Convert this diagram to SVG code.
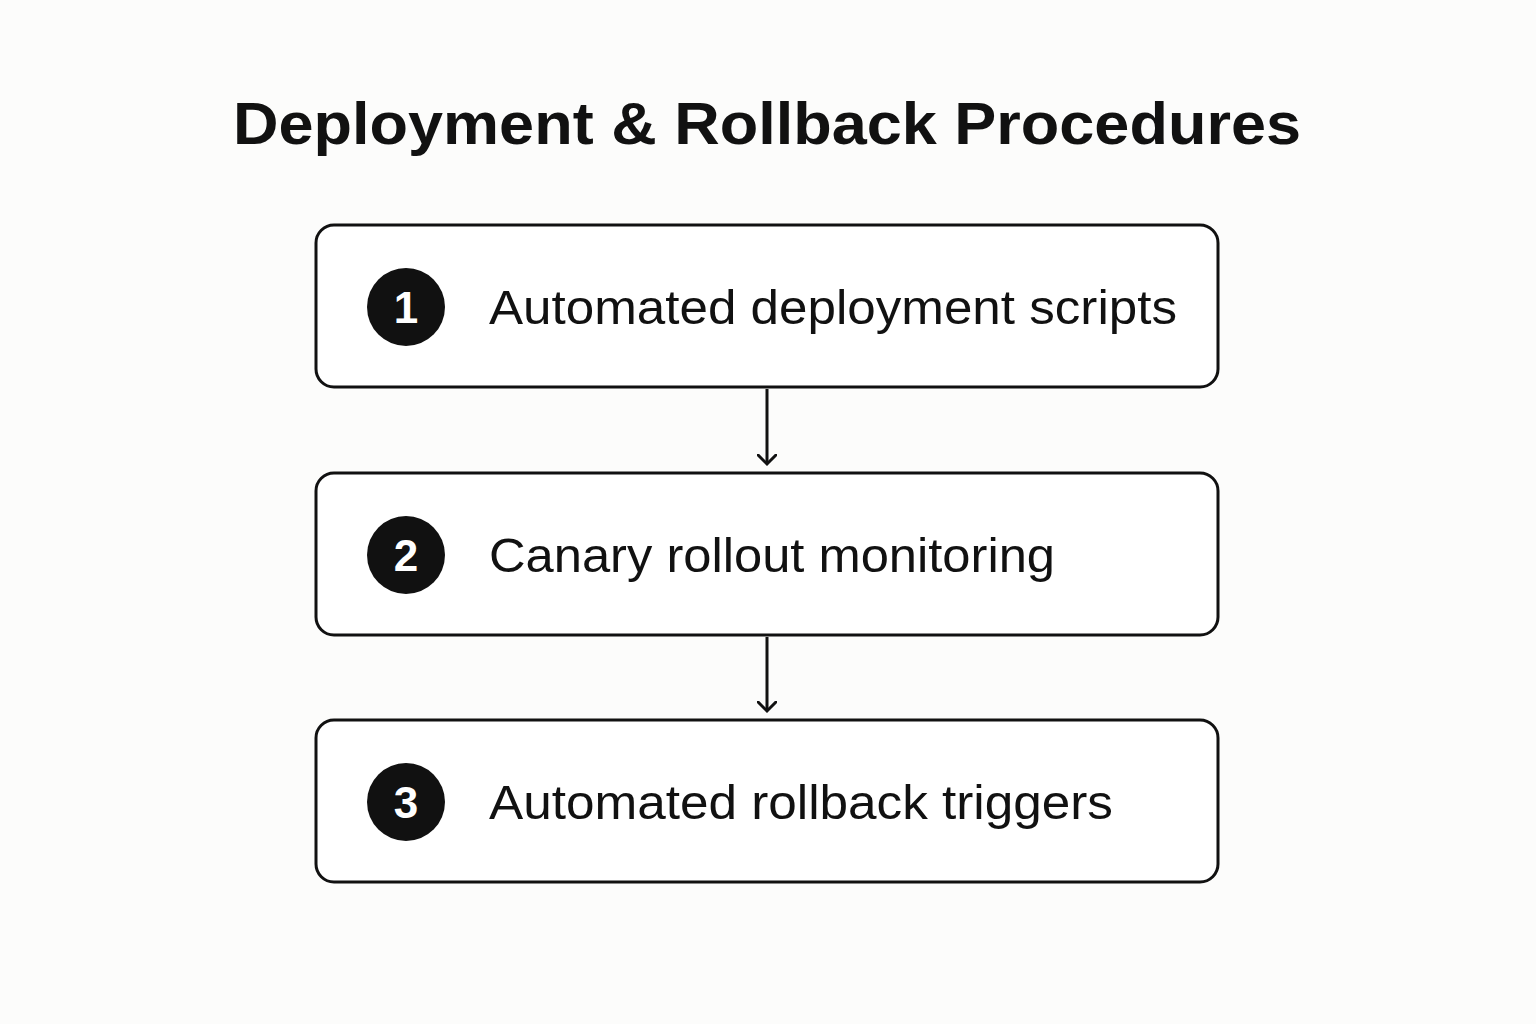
<svg xmlns="http://www.w3.org/2000/svg" width="1536" height="1024" viewBox="0 0 1536 1024">
<style>
.box{fill:#fff;stroke:#111;stroke-width:3}
.num{fill:#111}
.nt{fill:#fff;font-family:"Liberation Sans",Arial,sans-serif;font-size:44px;font-weight:bold;text-anchor:middle}
.lbl{fill:#111;font-family:"Liberation Sans",Arial,sans-serif;font-size:48px}
.con{stroke:#111;stroke-width:3;fill:none}
</style>
<defs><marker id="ah" markerWidth="20" markerHeight="20" refX="10" refY="10" orient="auto" markerUnits="userSpaceOnUse"><path d="M0,0 L10,10 L0,20" fill="none" stroke="#111" stroke-width="3"/></marker></defs>
<rect width="1536" height="1024" fill="#fcfcfb"/>
<text x="767" y="144" text-anchor="middle" font-family="'Liberation Sans',Arial,sans-serif" font-weight="bold" font-size="60" fill="#111" textLength="1068" lengthAdjust="spacingAndGlyphs">Deployment &amp; Rollback Procedures</text>
<g id="connectors">
<path class="con" d="M767,389 V464" marker-end="url(#ah)"/>
<path class="con" d="M767,637 V711" marker-end="url(#ah)"/>
</g>
<g id="n1"><rect class="box" x="316" y="225" width="902" height="162" rx="18"/><circle class="num" cx="406" cy="307" r="39"/><text class="nt" x="406" y="323">1</text><text class="lbl" x="489" y="324" textLength="688" lengthAdjust="spacingAndGlyphs">Automated deployment scripts</text></g>
<g id="n2"><rect class="box" x="316" y="473" width="902" height="162" rx="18"/><circle class="num" cx="406" cy="555" r="39"/><text class="nt" x="406" y="571">2</text><text class="lbl" x="489" y="572" textLength="566" lengthAdjust="spacingAndGlyphs">Canary rollout monitoring</text></g>
<g id="n3"><rect class="box" x="316" y="720" width="902" height="162" rx="18"/><circle class="num" cx="406" cy="802" r="39"/><text class="nt" x="406" y="818">3</text><text class="lbl" x="489" y="819" textLength="624" lengthAdjust="spacingAndGlyphs">Automated rollback triggers</text></g>
</svg>
